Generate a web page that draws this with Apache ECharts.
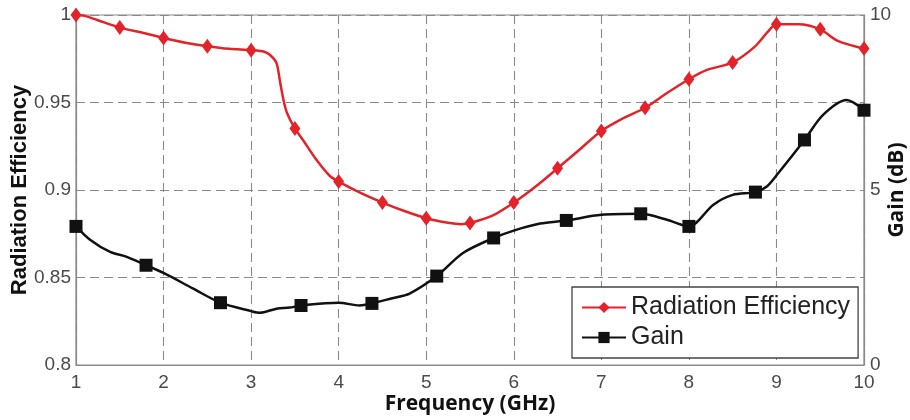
<!DOCTYPE html>
<html>
<head>
    <meta charset="utf-8">
    <title>Radiation Efficiency and Gain</title>
    <script src="https://cdn.jsdelivr.net/npm/echarts@6/dist/echarts.min.js"></script>
    <style>
        html, body { margin: 0; padding: 0; background: #fff; }
        #chart { width: 910px; height: 420px; }
    </style>
</head>
<body>
    <div id="chart"></div>
    <script>
        // radiation efficiency curve (left axis), markers every 0.5 GHz
        const effFreq = [1.0, 1.1, 1.25, 1.5, 1.75, 2.0, 2.25, 2.5, 2.75, 3.0, 3.15, 3.22, 3.29, 3.33, 3.37, 3.41, 3.5,
            3.6, 3.75, 3.9, 4.0, 4.25, 4.5, 4.75, 5.0, 5.25, 5.4, 5.5, 5.75, 6.0, 6.25, 6.5, 6.75, 7.0, 7.25, 7.5,
            7.75, 8.0, 8.2, 8.5, 8.75, 8.9, 9.0, 9.25, 9.5, 9.7, 10.0];
        const effValues = [1.0, 0.9995, 0.997, 0.9928, 0.990, 0.9869, 0.9842, 0.9822, 0.9807, 0.9799, 0.979, 0.977, 0.9725, 0.962, 0.9514, 0.944, 0.9352,
            0.928, 0.917, 0.908, 0.9048, 0.8983, 0.8928, 0.888, 0.8839, 0.8813, 0.8805, 0.8811, 0.8852, 0.8928, 0.902, 0.9124, 0.923, 0.9337, 0.941, 0.947,
            0.9554, 0.9633, 0.9685, 0.9729, 0.9818, 0.9903, 0.9947, 0.9947, 0.9918, 0.9852, 0.9808];
        const effMarkers = [1.0, 1.5, 2.0, 2.5, 3.0, 3.5, 4.0, 4.5, 5.0, 5.5, 6.0, 6.5, 7.0, 7.5, 8.0, 8.5, 9.0, 9.5, 10.0];

        // gain curve (right axis, dB)
        const gainFreq = [1.0, 1.16, 1.39, 1.58, 1.8, 2.0, 2.34, 2.65, 3.0, 3.1, 3.29, 3.44, 3.57, 4.0, 4.24, 4.38,
            4.6, 4.81, 5.12, 5.42, 5.77, 6.0, 6.3, 6.6, 7.0, 7.45, 7.75, 8.0, 8.28, 8.5, 8.76, 8.89, 9.02, 9.32,
            9.53, 9.8, 10.0];
        const gainValues = [3.96, 3.58, 3.23, 3.09, 2.85, 2.63, 2.18, 1.78, 1.54, 1.49, 1.61, 1.64, 1.70, 1.78, 1.70, 1.76,
            1.9, 2.04, 2.54, 3.2, 3.63, 3.84, 4.04, 4.13, 4.29, 4.32, 4.15, 3.96, 4.58, 4.86, 4.94, 5.1, 5.48, 6.43,
            7.14, 7.57, 7.28];
        const gainMarkers = [1.0, 1.8, 2.65, 3.57, 4.38, 5.12, 5.77, 6.6, 7.45, 8.0, 8.76, 9.32, 10.0];

        const xTicks = [1, 2, 3, 4, 5, 6, 7, 8, 9, 10];

        const RED = '#e3232a';
        const BLACK = '#111111';
        const GRID = '#8a8a8a';
        const LABEL = '#4a4a4a';

        function buildData(freq, values, markers) {
            return freq.map((f, i) => ({
                value: [f, values[i]],
                symbol: markers.includes(f) ? undefined : 'none'
            }));
        }

        const chart = echarts.init(document.getElementById('chart'));
        chart.setOption({
            animation: false,
            backgroundColor: '#fff',
            grid: {
                left: 76, right: 46, top: 15, bottom: 55,
                outerBoundsMode: 'none',
                containLabel: false,
                show: true, borderColor: GRID, borderWidth: 1.2
            },
            legend: {
                orient: 'vertical',
                left: 572, top: 287,
                padding: [8, 8, 8, 9],
                itemGap: 5,
                itemWidth: 44, itemHeight: 14,
                backgroundColor: '#fff',
                borderColor: '#444', borderWidth: 1.3,
                textStyle: { fontSize: 25, color: '#222', fontFamily: 'Liberation Sans, Arial' },
                data: ['Radiation Efficiency', 'Gain']
            },
            xAxis: {
                type: 'value',
                min: 1, max: 10, interval: 1,
                name: 'Frequency (GHz)',
                nameLocation: 'middle',
                nameGap: 29,
                nameMoveOverlap: false,
                nameTextStyle: { fontSize: 21, fontWeight: 'bold', color: '#111', fontFamily: 'Open Sans' },
                axisLine: { show: true, lineStyle: { color: GRID, width: 1.2 } },
                axisTick: { show: false },
                axisLabel: {
                    fontSize: 19, color: LABEL, margin: 8, fontFamily: 'Liberation Sans, Arial',
                    formatter: v => (xTicks.includes(v) ? String(v) : '')
                },
                splitLine: { show: true, lineStyle: { color: GRID, type: [9, 5], width: 1.1 } }
            },
            yAxis: [{
                type: 'value',
                min: 0.8, max: 1, interval: 0.05,
                name: 'Radiation Efficiency',
                nameLocation: 'middle',
                nameGap: 45,
                nameMoveOverlap: false,
                nameTextStyle: { fontSize: 22, fontWeight: 'bold', color: '#111', fontFamily: 'Liberation Sans, Arial' },
                axisLine: { show: true, lineStyle: { color: GRID, width: 1.2 } },
                axisTick: { show: false },
                axisLabel: {
                    fontSize: 19, color: LABEL, margin: 5, fontFamily: 'Liberation Sans, Arial',
                    formatter: v => String(parseFloat(v.toFixed(2)))
                },
                splitLine: { show: true, lineStyle: { color: GRID, type: [9, 5], width: 1.1 } }
            }, {
                type: 'value',
                min: 0, max: 10, interval: 5,
                name: 'Gain (dB)',
                nameLocation: 'middle',
                nameGap: 23,
                nameRotate: 90,
                nameMoveOverlap: false,
                nameTextStyle: { fontSize: 21, fontWeight: 'bold', color: '#111', fontFamily: 'Open Sans' },
                axisLine: { show: true, lineStyle: { color: GRID, width: 1.2 } },
                axisTick: { show: false },
                axisLabel: { fontSize: 19, color: LABEL, margin: 6, fontFamily: 'Liberation Sans, Arial' },
                splitLine: { show: false }
            }],
            series: [{
                name: 'Radiation Efficiency',
                type: 'line',
                yAxisIndex: 0,
                smooth: 0.3,
                symbol: 'diamond',
                symbolSize: [11, 15],
                lineStyle: { color: RED, width: 2.5 },
                itemStyle: { color: RED },
                data: buildData(effFreq, effValues, effMarkers),
                z: 3
            }, {
                name: 'Gain',
                type: 'line',
                yAxisIndex: 1,
                smooth: 0.3,
                symbol: 'rect',
                symbolSize: 13,
                lineStyle: { color: BLACK, width: 2.5 },
                itemStyle: { color: BLACK },
                data: buildData(gainFreq, gainValues, gainMarkers),
                z: 3
            }]
        });
    </script>
</body>
</html>
